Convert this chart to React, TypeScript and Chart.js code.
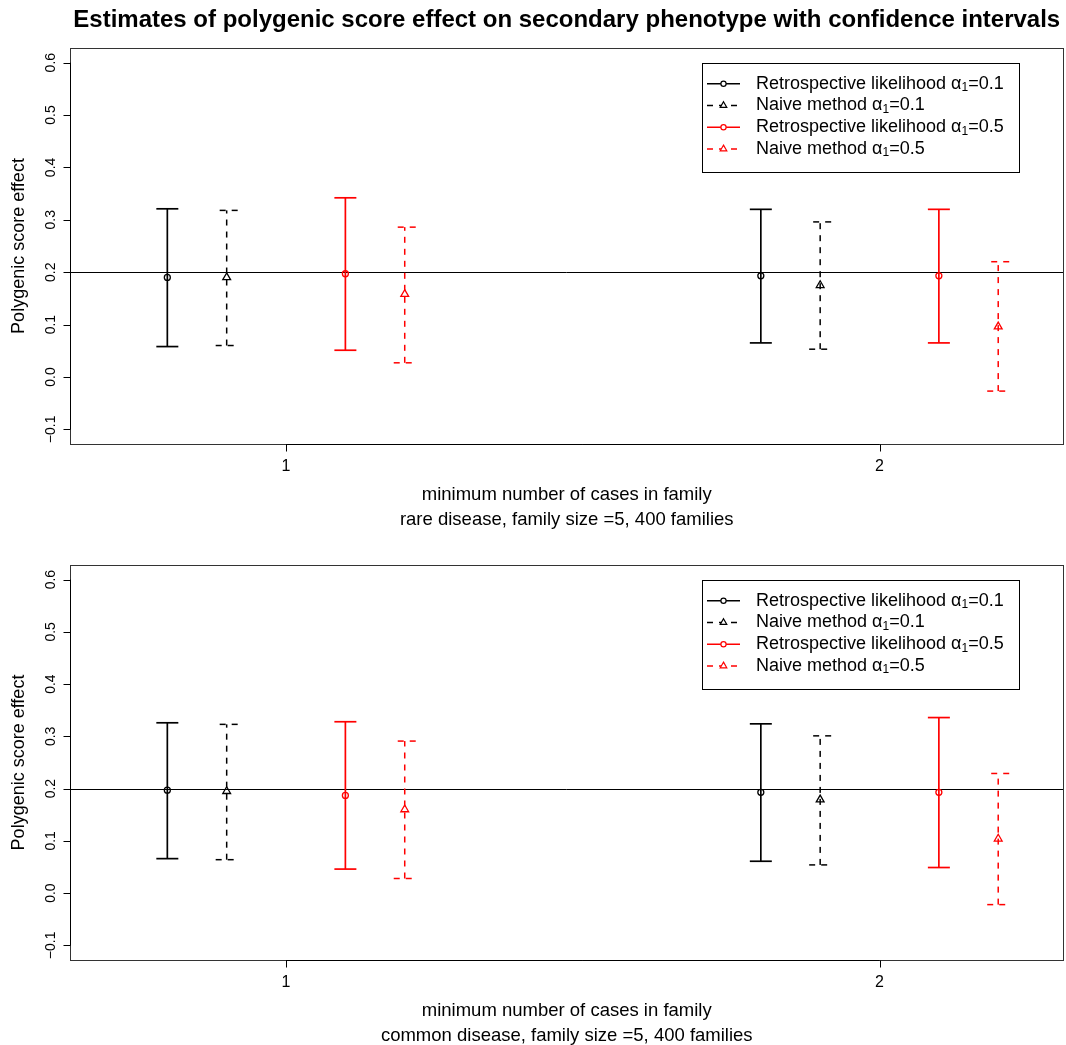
import React, { useEffect, useRef } from 'react';
import { Chart, registerables } from 'chart.js';

Chart.register(...registerables);

// ---------- data ----------
const categories = [1, 2];
const xTickLabels = ['1', '2'];
const seriesOffsets = [-0.2, -0.1, 0.1, 0.2];
const yTickValues = [-0.1, 0, 0.1, 0.2, 0.3, 0.4, 0.5, 0.6];
const yTickLabels = ['\u22120.1', '0.0', '0.1', '0.2', '0.3', '0.4', '0.5', '0.6'];
const referenceValue = 0.2;

const seriesMethods = ['Retrospective likelihood', 'Naive method', 'Retrospective likelihood', 'Naive method'];
const seriesAlpha = ['0.1', '0.1', '0.5', '0.5'];

// rare disease panel
const rareRetro01Est = [0.190, 0.193];
const rareRetro01Lo = [0.058, 0.065];
const rareRetro01Hi = [0.321, 0.320];
const rareNaive01Est = [0.190, 0.175];
const rareNaive01Lo = [0.060, 0.053];
const rareNaive01Hi = [0.318, 0.296];
const rareRetro05Est = [0.197, 0.193];
const rareRetro05Lo = [0.051, 0.065];
const rareRetro05Hi = [0.342, 0.320];
const rareNaive05Est = [0.158, 0.096];
const rareNaive05Lo = [0.027, -0.027];
const rareNaive05Hi = [0.286, 0.220];

// common disease panel
const commonRetro01Est = [0.197, 0.193];
const commonRetro01Lo = [0.066, 0.061];
const commonRetro01Hi = [0.326, 0.324];
const commonNaive01Est = [0.195, 0.179];
const commonNaive01Lo = [0.064, 0.054];
const commonNaive01Hi = [0.323, 0.301];
const commonRetro05Est = [0.187, 0.193];
const commonRetro05Lo = [0.046, 0.049];
const commonRetro05Hi = [0.328, 0.336];
const commonNaive05Est = [0.160, 0.104];
const commonNaive05Lo = [0.028, -0.022];
const commonNaive05Hi = [0.291, 0.229];

const titleText = 'Estimates of polygenic score effect on secondary phenotype with confidence intervals';
const xLabel = 'minimum number of cases in family';
const yLabel = 'Polygenic score effect';
const rareSubtitle = 'rare disease, family size =5, 400 families';
const commonSubtitle = 'common disease, family size =5, 400 families';

// ---------- styles ----------
const seriesColors = ['#000000', '#000000', '#ff0000', '#ff0000'];
const seriesDashed = [false, true, false, true];
const seriesMarkers = ['circle', 'triangle', 'circle', 'triangle'];
const FONT = '"Liberation Sans", Arial, Helvetica, sans-serif';
const CAP = 11;

const crisp = (v: number) => Math.round(v) + 0.5;

const rPlugin = {
  id: 'rstyle',
  beforeDatasetsDraw(chart: any) {
    const { ctx, chartArea: a } = chart;
    const x = chart.scales.x;
    const y = chart.scales.y;
    ctx.save();
    // reference line
    const yr = crisp(y.getPixelForValue(referenceValue));
    ctx.strokeStyle = '#000';
    ctx.lineWidth = 1;
    ctx.setLineDash([]);
    ctx.beginPath();
    ctx.moveTo(a.left, yr);
    ctx.lineTo(a.right, yr);
    ctx.stroke();
    // error bars
    chart.data.datasets.forEach((ds: any) => {
      ds.data.forEach((pt: any, j: number) => {
        const px = x.getPixelForValue(pt.x);
        const pLo = y.getPixelForValue(ds.lo[j]);
        const pHi = y.getPixelForValue(ds.hi[j]);
        ctx.strokeStyle = ds.borderColor;
        ctx.lineWidth = ds.dashed ? 1.5 : 1.7;
        ctx.setLineDash(ds.dashed ? [6, 6] : []);
        ctx.beginPath();
        ctx.moveTo(px, pLo);
        ctx.lineTo(px, pHi);
        ctx.stroke();
        ctx.beginPath();
        ctx.moveTo(px + CAP, pHi);
        ctx.lineTo(px - CAP, pHi);
        ctx.stroke();
        ctx.beginPath();
        ctx.moveTo(px - CAP, pLo);
        ctx.lineTo(px + CAP, pLo);
        ctx.stroke();
      });
    });
    ctx.restore();
  },
  afterDraw(chart: any, _args: any, opts: any) {
    const { ctx, chartArea: a } = chart;
    const x = chart.scales.x;
    const y = chart.scales.y;
    ctx.save();
    ctx.setLineDash([]);
    // box
    ctx.strokeStyle = '#333';
    ctx.lineWidth = 1;
    ctx.strokeRect(crisp(a.left), crisp(a.top), Math.round(a.right - a.left) - 1, Math.round(a.bottom - a.top));
    // axes
    ctx.strokeStyle = '#000';
    const bx = crisp(a.left);
    const by = crisp(a.bottom);
    ctx.beginPath();
    ctx.moveTo(bx, y.getPixelForValue(yTickValues[0]));
    ctx.lineTo(bx, y.getPixelForValue(yTickValues[yTickValues.length - 1]));
    yTickValues.forEach((v) => {
      const p = crisp(y.getPixelForValue(v));
      ctx.moveTo(bx, p);
      ctx.lineTo(bx - 7, p);
    });
    ctx.moveTo(x.getPixelForValue(categories[0]), by);
    ctx.lineTo(x.getPixelForValue(categories[categories.length - 1]), by);
    categories.forEach((c) => {
      const p = crisp(x.getPixelForValue(c));
      ctx.moveTo(p, by);
      ctx.lineTo(p, by + 7);
    });
    ctx.stroke();

    ctx.fillStyle = '#000';
    // y tick labels (rotated)
    ctx.font = `14px ${FONT}`;
    ctx.textAlign = 'center';
    ctx.textBaseline = 'alphabetic';
    yTickValues.forEach((v, i) => {
      const p = y.getPixelForValue(v);
      ctx.save();
      ctx.translate(55, p);
      ctx.rotate(-Math.PI / 2);
      ctx.fillText(yTickLabels[i], 0, 0);
      ctx.restore();
    });
    // y label
    ctx.font = `18px ${FONT}`;
    ctx.save();
    ctx.translate(24, (a.top + a.bottom) / 2);
    ctx.rotate(-Math.PI / 2);
    ctx.fillText(yLabel, 0, 0);
    ctx.restore();
    // x tick labels
    ctx.font = `16px ${FONT}`;
    categories.forEach((c, i) => {
      ctx.fillText(xTickLabels[i], x.getPixelForValue(c), a.bottom + 26.5);
    });
    // x labels
    const cx = (a.left + a.right) / 2;
    ctx.font = `18.5px ${FONT}`;
    ctx.fillText(xLabel, cx, a.bottom + 56);
    ctx.fillText(opts.subtitle, cx, a.bottom + 81);
    // title
    if (opts.title) {
      ctx.font = `bold 24px ${FONT}`;
      ctx.fillText(opts.title, cx, 27);
    }

    // legend
    const lx = 702;
    const ly = a.top + 14.8;
    ctx.strokeStyle = '#000';
    ctx.lineWidth = 1;
    ctx.strokeRect(lx + 0.5, Math.round(ly) + 0.5, 317, 109);
    chart.data.datasets.forEach((ds: any, i: number) => {
      const ry = ly + 21 + i * 21.7;
      ctx.strokeStyle = ds.borderColor;
      ctx.lineWidth = 1.5;
      ctx.setLineDash(ds.dashed ? [6, 6] : []);
      ctx.beginPath();
      ctx.moveTo(lx + 5, ry);
      ctx.lineTo(lx + 38, ry);
      ctx.stroke();
      ctx.setLineDash([]);
      ctx.lineWidth = 1.2;
      ctx.beginPath();
      const mx = lx + 21.5;
      if (ds.pointStyle === 'circle') {
        ctx.fillStyle = '#fff';
        ctx.arc(mx, ry, 2.6, 0, Math.PI * 2);
        ctx.fill();
        ctx.stroke();
      } else {
        const r = 3.8;
        ctx.fillStyle = '#fff';
        ctx.moveTo(mx, ry - r);
        ctx.lineTo(mx + r * 0.866, ry + r / 2);
        ctx.lineTo(mx - r * 0.866, ry + r / 2);
        ctx.closePath();
        ctx.fill();
        ctx.stroke();
      }
      // text
      ctx.fillStyle = '#000';
      ctx.textAlign = 'left';
      ctx.textBaseline = 'middle';
      let tx = lx + 54;
      ctx.font = `18px ${FONT}`;
      const t1 = seriesMethods[i] + ' ';
      ctx.fillText(t1, tx, ry);
      tx += ctx.measureText(t1).width;
      ctx.fillText('\u03b1', tx, ry);
      tx += ctx.measureText('\u03b1').width;
      ctx.font = `12px ${FONT}`;
      ctx.fillText('1', tx, ry + 4);
      tx += ctx.measureText('1').width;
      ctx.font = `18px ${FONT}`;
      ctx.fillText('=' + seriesAlpha[i], tx, ry);
    });
    ctx.restore();
  },
};

interface PanelProps {
  est: number[][];
  lo: number[][];
  hi: number[][];
  subtitle: string;
  title?: string;
  height: number;
  padTop: number;
  padBottom: number;
}

function Panel({ est, lo, hi, subtitle, title, height, padTop, padBottom }: PanelProps) {
  const ref = useRef<HTMLCanvasElement>(null);
  useEffect(() => {
    const datasets = est.map((e, i) => ({
      type: 'scatter' as const,
      label: seriesMethods[i] + ' ' + seriesAlpha[i],
      data: categories.map((c, j) => ({ x: c + seriesOffsets[i], y: e[j] })),
      lo: lo[i],
      hi: hi[i],
      dashed: seriesDashed[i],
      borderColor: seriesColors[i],
      backgroundColor: 'rgba(0,0,0,0)',
      pointStyle: seriesMarkers[i],
      pointRadius: seriesMarkers[i] === 'circle' ? 3 : 4.5,
      pointBorderWidth: 1.3,
      pointBorderColor: seriesColors[i],
      pointBackgroundColor: 'rgba(0,0,0,0)',
      showLine: false,
    }));
    const chart = new Chart(ref.current as HTMLCanvasElement, {
      type: 'scatter',
      data: { datasets: datasets as any },
      options: {
        responsive: false,
        animation: false,
        layout: { autoPadding: false, padding: { left: 70, right: 2.5, top: padTop, bottom: padBottom } },
        scales: {
          x: { type: 'linear', min: 0.636, max: 2.31, display: false },
          y: { type: 'linear', min: -0.128, max: 0.628, display: false },
        },
        plugins: {
          legend: { display: false },
          tooltip: { enabled: false },
          rstyle: { subtitle, title },
        } as any,
      } as any,
      plugins: [rPlugin as any],
    });
    return () => chart.destroy();
  }, []);
  return <canvas ref={ref} width={1066} height={height} style={{ display: 'block' }} />;
}

export default function App() {
  return (
    <div style={{ position: 'absolute', left: 0, top: 0, width: 1066, background: '#fff' }}>
      <Panel
        est={[rareRetro01Est, rareNaive01Est, rareRetro05Est, rareNaive05Est]}
        lo={[rareRetro01Lo, rareNaive01Lo, rareRetro05Lo, rareNaive05Lo]}
        hi={[rareRetro01Hi, rareNaive01Hi, rareRetro05Hi, rareNaive05Hi]}
        subtitle={rareSubtitle}
        title={titleText}
        height={530}
        padTop={48}
        padBottom={86}
      />
      <Panel
        est={[commonRetro01Est, commonNaive01Est, commonRetro05Est, commonNaive05Est]}
        lo={[commonRetro01Lo, commonNaive01Lo, commonRetro05Lo, commonNaive05Lo]}
        hi={[commonRetro01Hi, commonNaive01Hi, commonRetro05Hi, commonNaive05Hi]}
        subtitle={commonSubtitle}
        height={515}
        padTop={35}
        padBottom={85}
      />
    </div>
  );
}
